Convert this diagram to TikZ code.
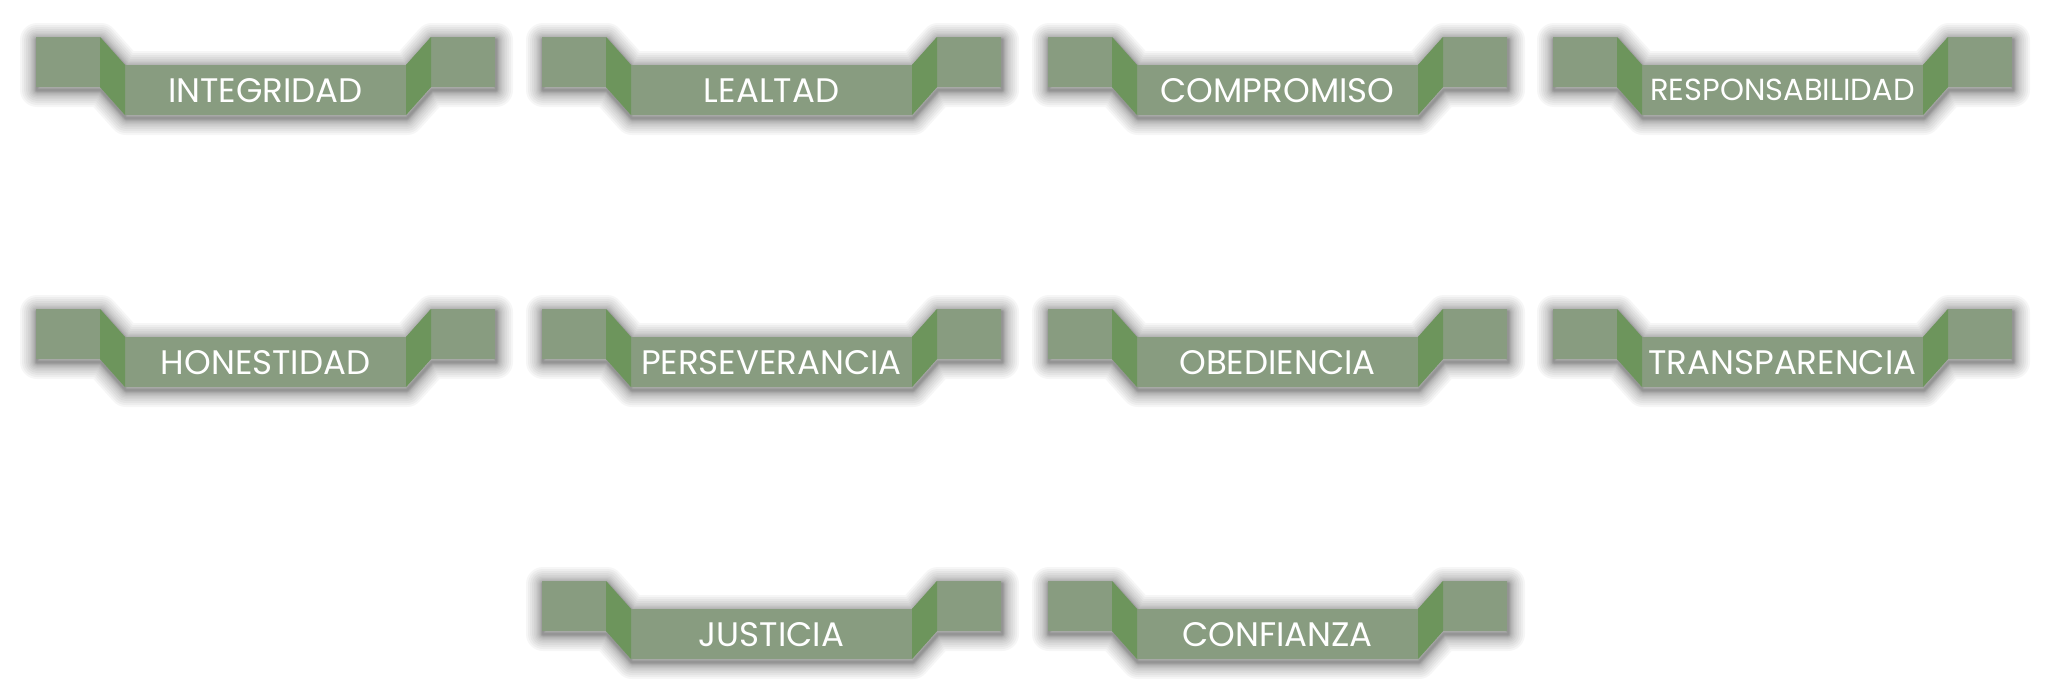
\documentclass[tikz,border=0pt]{standalone}
\usepackage{fontspec}
\setmainfont{Poppins}
\definecolor{flapc}{HTML}{889C80}
\definecolor{foldc}{HTML}{6D955C}
\tikzset{
  shadowlayer/.style={draw=black,draw opacity=0.034,line join=round,line width=#1},
  bannertext/.style={text=white,inner sep=0pt,anchor=center,text height=24pt,text depth=0pt,font=\fontsize{34}{34}\selectfont},
  smalltext/.style={font=\fontsize{30.5}{30.5}\selectfont,text height=21pt}
}
\newcommand\bannerpath{(0,0) -- (64,0) -- (89,28) -- (370,28) -- (395,0) -- (459,0) -- (459,50) -- (395,50) -- (370,78) -- (89,78) -- (64,50) -- (0,50) -- cycle}
\newcommand\mybanner[5]{%
  \begin{scope}[shift={(#1,#2)}]
    \begin{scope}[xshift=1pt,yshift=-3pt]
      \foreach \w in {2,3,4,5,6,8,10,12,15,18,22,26,30,34} {\path[shadowlayer=\w pt] \bannerpath;}
    \end{scope}
    \fill[flapc] \bannerpath;
    \fill[foldc] (64,0) -- (89,28) -- (89,78) -- (64,50) -- cycle;
    \fill[foldc] (370,28) -- (395,0) -- (395,50) -- (370,78) -- cycle;
    \node[bannertext,#5] (#3) at (229.5,53) {#4};
  \end{scope}}
\begin{document}
\begin{tikzpicture}[x=1pt,y=-1pt]
  \useasboundingbox[fill=white] (0,0) rectangle (2048,696);
  \mybanner{36}{37}{integridad}{INTEGRIDAD}{}
  \mybanner{542}{37}{lealtad}{LEALTAD}{}
  \mybanner{1048}{37}{compromiso}{COMPROMISO}{}
  \mybanner{1553}{37}{responsabilidad}{RESPONSABILIDAD}{smalltext}
  \mybanner{36}{309}{honestidad}{HONESTIDAD}{}
  \mybanner{542}{309}{perseverancia}{PERSEVERANCIA}{}
  \mybanner{1048}{309}{obediencia}{OBEDIENCIA}{}
  \mybanner{1553}{309}{transparencia}{TRANSPARENCIA}{}
  \mybanner{542}{581}{justicia}{JUSTICIA}{}
  \mybanner{1048}{581}{confianza}{CONFIANZA}{}
\end{tikzpicture}
\end{document}
